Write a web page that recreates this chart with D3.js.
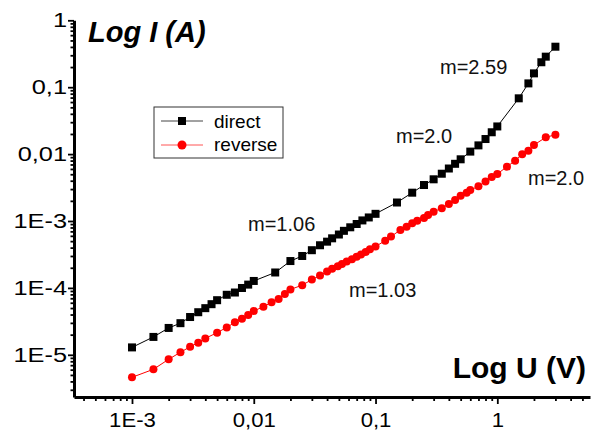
<!DOCTYPE html>
<html>
<head>
<meta charset="utf-8">
<script src="https://cdn.jsdelivr.net/npm/d3@7"></script>
<style>
  body { margin: 0; background: #fff; }
  text { font-family: "Liberation Sans", Arial, sans-serif; }
</style>
</head>
<body>
<div id="chart"></div>
<script>
// Data
const directU = [0.001, 0.0015, 0.002, 0.0025, 0.003, 0.0035, 0.004, 0.0045, 0.005, 0.006, 0.007, 0.008, 0.009,
  0.01, 0.015, 0.02, 0.025, 0.03, 0.035, 0.04, 0.044, 0.05, 0.055, 0.062, 0.07, 0.078, 0.088,
  0.1, 0.15, 0.2, 0.25, 0.3, 0.35, 0.4, 0.45, 0.5, 0.6, 0.7, 0.8, 0.9,
  1, 1.5, 1.8, 2.0, 2.3, 2.5, 3.0];
const directI = [1.29e-5, 1.85e-5, 2.52e-5, 2.97e-5, 3.67e-5, 4.33e-5, 4.98e-5, 5.71e-5, 6.55e-5, 7.89e-5, 8.53e-5, 9.97e-5, 1.12e-4,
  1.27e-4, 1.70e-4, 2.52e-4, 3.00e-4, 3.66e-4, 4.34e-4, 4.91e-4, 5.51e-4, 6.28e-4, 7.13e-4, 8.05e-4, 9.02e-4, 1.02e-3, 1.13e-3,
  1.28e-3, 1.89e-3, 2.65e-3, 3.45e-3, 4.20e-3, 5.09e-3, 6.09e-3, 7.16e-3, 8.36e-3, 0.0109, 0.0135, 0.0168, 0.0212,
  0.0259, 0.0682, 0.114, 0.161, 0.236, 0.286, 0.403];

const reverseU = [0.001, 0.0015, 0.002, 0.0025, 0.003, 0.0035, 0.004, 0.005, 0.006, 0.007, 0.008, 0.009,
  0.01, 0.012, 0.014, 0.016, 0.018, 0.02, 0.025, 0.03, 0.035, 0.04, 0.044, 0.049, 0.053, 0.058, 0.064, 0.07, 0.076, 0.083, 0.09,
  0.1, 0.12, 0.134, 0.16, 0.18, 0.2, 0.22, 0.25, 0.27, 0.3, 0.35, 0.4, 0.45, 0.5, 0.56, 0.6, 0.7, 0.8, 0.9,
  1.0, 1.2, 1.4, 1.6, 1.8, 2.0, 2.5, 3.0];
const reverseI = [4.61e-6, 6.07e-6, 8.57e-6, 1.09e-5, 1.32e-5, 1.52e-5, 1.76e-5, 2.14e-5, 2.57e-5, 3.06e-5, 3.47e-5, 3.94e-5,
  4.52e-5, 5.24e-5, 6.09e-5, 6.83e-5, 8.11e-5, 9.47e-5, 1.10e-4, 1.33e-4, 1.53e-4, 1.76e-4, 1.94e-4, 2.10e-4, 2.28e-4, 2.48e-4, 2.69e-4, 2.92e-4, 3.16e-4, 3.44e-4, 3.78e-4,
  4.16e-4, 5.08e-4, 5.87e-4, 7.33e-4, 8.22e-4, 9.24e-4, 1.01e-3, 1.11e-3, 1.23e-3, 1.38e-3, 1.55e-3, 1.80e-3, 2.06e-3, 2.39e-3, 2.65e-3, 2.90e-3, 3.30e-3, 3.89e-3, 4.55e-3,
  5.04e-3, 6.49e-3, 7.97e-3, 9.93e-3, 0.0112, 0.0137, 0.0178, 0.0195];

const xTicks = [0.001, 0.01, 0.1, 1];
const xTickLabels = ["1E-3", "0,01", "0,1", "1"];
const yTicks = [1e-5, 1e-4, 1e-3, 0.01, 0.1, 1];
const yTickLabels = ["1E-5", "1E-4", "1E-3", "0,01", "0,1", "1"];

const seriesNames = ["direct", "reverse"];
const slopeLabels = ["m=2.59", "m=2.0", "m=2.0", "m=1.06", "m=1.03"];

const W = 597, H = 431;

const svg = d3.select("#chart")
  .append("svg")
  .attr("width", W)
  .attr("height", H);

// Scales
const x = d3.scaleLog()
  .domain([3.34e-4, 5.77])
  .range([74, 590]);

const y = d3.scaleLog()
  .domain([2.34e-6, 1])
  .range([397, 20.3]);

// minor ticks 2..9 in every decade
function minors(lo, hi) {
  const out = [];
  for (let e = Math.floor(Math.log10(lo)); e <= Math.ceil(Math.log10(hi)); e++) {
    for (let k = 2; k <= 9; k++) {
      const v = k * Math.pow(10, e);
      if (v >= lo && v <= hi) out.push(v);
    }
  }
  return out;
}

// X axis
svg.append("g")
  .attr("transform", `translate(0,397)`)
  .call(d3.axisBottom(x).tickValues(minors(...x.domain())).tickSize(4).tickFormat(""))
  .call(g => g.select(".domain").remove())
  .selectAll("line").attr("stroke-width", 1.8);

const xAxis = svg.append("g")
  .attr("transform", `translate(0,397)`)
  .call(d3.axisBottom(x).tickValues(xTicks).tickSize(7).tickSizeOuter(0)
    .tickFormat((d, i) => xTickLabels[i]));
xAxis.select(".domain").attr("stroke-width", 3);
xAxis.selectAll(".tick line").attr("stroke-width", 1.8);
xAxis.selectAll("text")
  .attr("y", 0)
  .attr("dy", 0)
  .attr("transform", "translate(0,30) scale(1.08,1)")
  .attr("font-size", 20.5)
  .attr("font-family", "Liberation Sans, Arial, sans-serif")
  .attr("fill", "#000");

// Y axis
svg.append("g")
  .attr("transform", `translate(74,0)`)
  .call(d3.axisLeft(y).tickValues(minors(...y.domain())).tickSize(3.5).tickFormat(""))
  .call(g => g.select(".domain").remove())
  .selectAll("line").attr("stroke-width", 1.8);

const yAxis = svg.append("g")
  .attr("transform", `translate(74,0)`)
  .call(d3.axisLeft(y).tickValues(yTicks).tickSize(6).tickSizeOuter(0)
    .tickFormat((d, i) => yTickLabels[i]));
yAxis.select(".domain").attr("stroke-width", 3);
yAxis.selectAll(".tick line").attr("stroke-width", 1.8);
yAxis.selectAll("text")
  .attr("x", 0)
  .attr("transform", "translate(-7,0) scale(1.3,1)")
  .attr("font-size", 19.5)
  .attr("font-family", "Liberation Sans, Arial, sans-serif")
  .attr("fill", "#000");

// Axis titles
svg.append("text")
  .attr("x", 88).attr("y", 42)
  .attr("font-size", 29)
  .attr("font-weight", "bold")
  .attr("font-style", "italic")
  .text("Log I (A)");

svg.append("text")
  .attr("x", 586).attr("y", 378)
  .attr("text-anchor", "end")
  .attr("font-size", 30)
  .attr("font-weight", "bold")
  .text("Log U (V)");

// Lines
const line = d3.line()
  .x(d => x(d[0]))
  .y(d => y(d[1]));

const direct = directU.map((u, i) => [u, directI[i]]);
const reverse = reverseU.map((u, i) => [u, reverseI[i]]);

svg.append("path")
  .datum(reverse)
  .attr("d", line)
  .attr("fill", "none")
  .attr("stroke", "#f00")
  .attr("stroke-width", 1);

svg.append("path")
  .datum(direct)
  .attr("d", line)
  .attr("fill", "none")
  .attr("stroke", "#000")
  .attr("stroke-width", 1);

svg.selectAll(".rev")
  .data(reverse)
  .enter()
  .append("circle")
  .attr("class", "rev")
  .attr("cx", d => x(d[0]))
  .attr("cy", d => y(d[1]))
  .attr("r", 4)
  .attr("fill", "#f00");

svg.selectAll(".dir")
  .data(direct)
  .enter()
  .append("rect")
  .attr("class", "dir")
  .attr("x", d => x(d[0]) - 4)
  .attr("y", d => y(d[1]) - 4)
  .attr("width", 8)
  .attr("height", 8)
  .attr("fill", "#000");

// Slope annotations
const slopePos = [[440, 74], [396, 143], [528, 185], [248, 231], [349, 297]];
svg.selectAll(".slope")
  .data(slopeLabels)
  .enter()
  .append("text")
  .attr("class", "slope")
  .attr("x", (d, i) => slopePos[i][0])
  .attr("y", (d, i) => slopePos[i][1])
  .attr("font-size", 20)
  .attr("fill", "#111")
  .text(d => d);

// Legend
const legend = svg.append("g").attr("transform", "translate(154,107)");
legend.append("rect")
  .attr("width", 129).attr("height", 51)
  .attr("fill", "#fff")
  .attr("stroke", "#333")
  .attr("stroke-width", 1);

legend.append("line")
  .attr("x1", 7).attr("x2", 49).attr("y1", 14).attr("y2", 14)
  .attr("stroke", "#444").attr("stroke-width", 1);
legend.append("rect")
  .attr("x", 24).attr("y", 10).attr("width", 8).attr("height", 8)
  .attr("fill", "#000");
legend.append("line")
  .attr("x1", 7).attr("x2", 49).attr("y1", 38).attr("y2", 38)
  .attr("stroke", "#f55").attr("stroke-width", 1);
legend.append("circle")
  .attr("cx", 28).attr("cy", 38).attr("r", 4.5)
  .attr("fill", "#f00");

legend.selectAll(".lt")
  .data(seriesNames)
  .enter()
  .append("text")
  .attr("class", "lt")
  .attr("x", 60)
  .attr("y", (d, i) => 20.5 + i * 23.5)
  .attr("font-size", 19)
  .text(d => d);
</script>
</body>
</html>
